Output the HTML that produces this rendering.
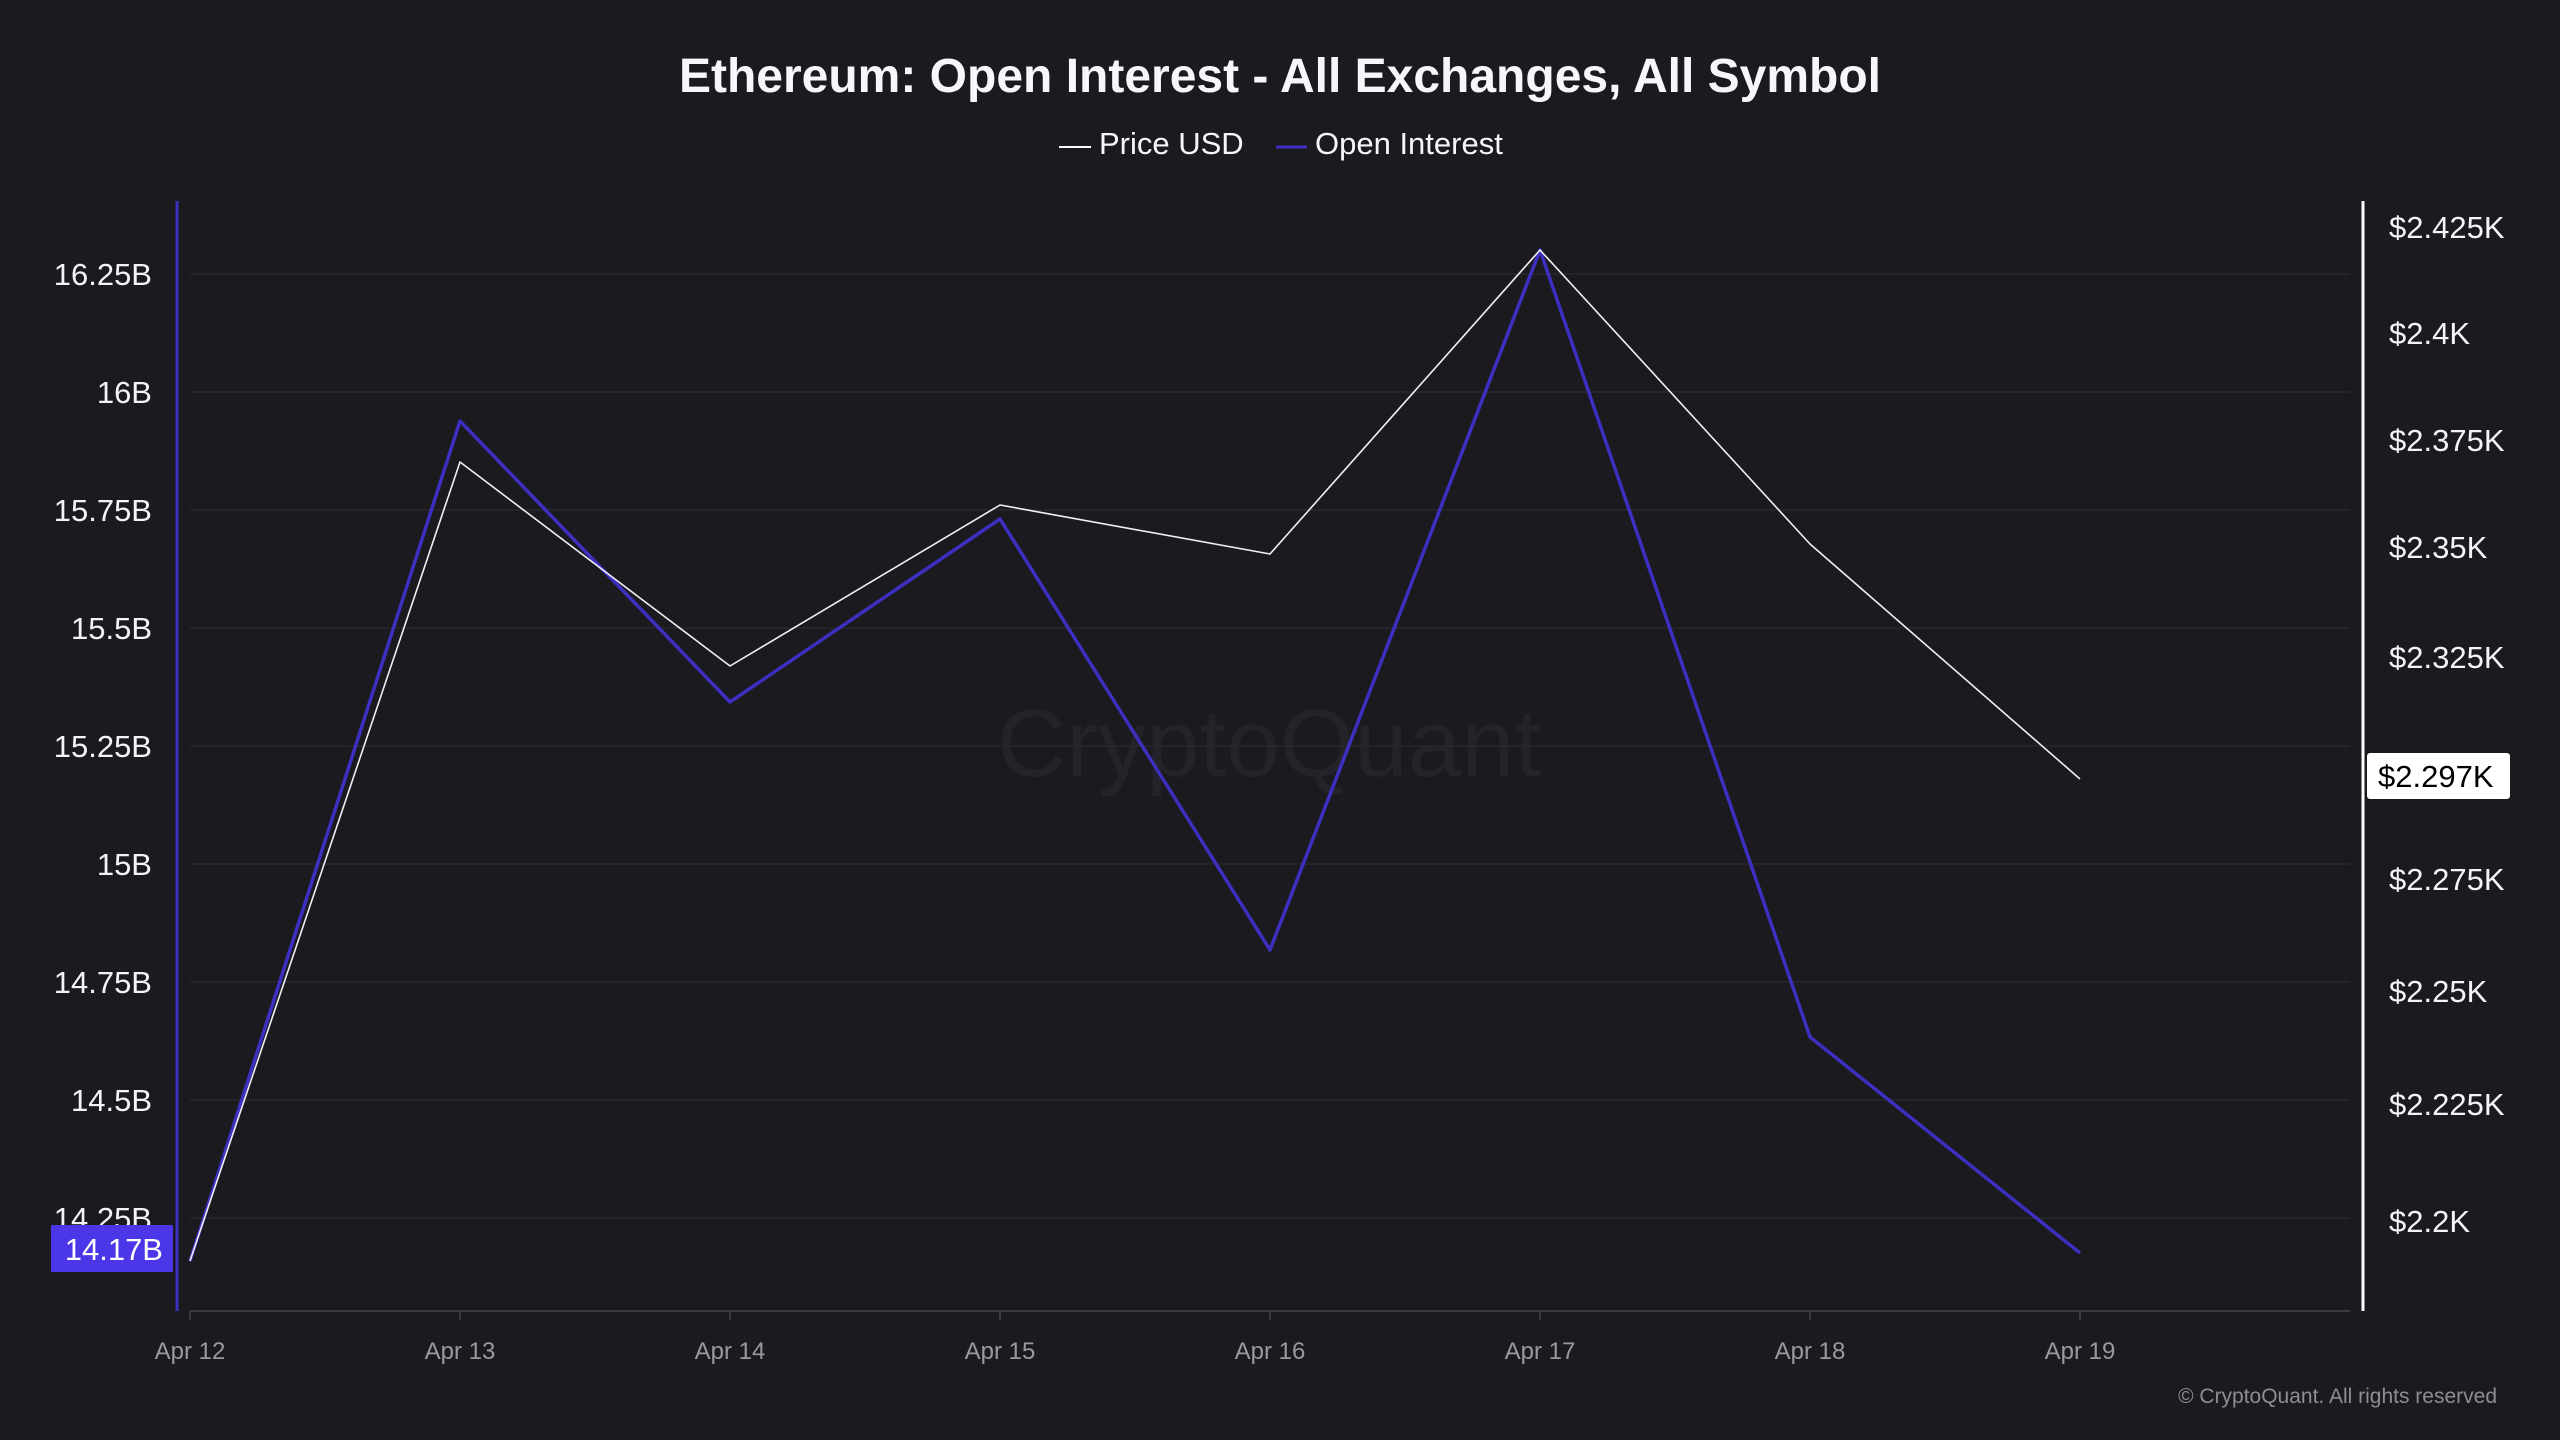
<!DOCTYPE html>
<html><head><meta charset="utf-8"><style>
html,body{margin:0;padding:0;background:#1b1a1f;}
svg{display:block;}
</style></head><body>
<svg width="2560" height="1440" viewBox="0 0 2560 1440" xmlns="http://www.w3.org/2000/svg" font-family="'Liberation Sans', sans-serif">
<rect width="2560" height="1440" fill="#1b1a1f"/>
<text x="1280" y="92" text-anchor="middle" font-size="48" font-weight="bold" fill="#f7f6fb">Ethereum: Open Interest - All Exchanges, All Symbol</text>
<line x1="1059" y1="147" x2="1091" y2="147" stroke="#ffffff" stroke-width="2"/>
<text x="1099" y="154" font-size="31" fill="#f7f6fb">Price USD</text>
<line x1="1276" y1="147" x2="1307" y2="147" stroke="#3d2fc0" stroke-width="3"/>
<text x="1315" y="154" font-size="31" fill="#f7f6fb">Open Interest</text>
<text x="1269" y="776" text-anchor="middle" font-size="96" fill="#24232a">CryptoQuant</text>
<g stroke="#28272e" stroke-width="1.5">
<line x1="190" y1="274" x2="2350" y2="274"/>
<line x1="190" y1="392" x2="2350" y2="392"/>
<line x1="190" y1="510" x2="2350" y2="510"/>
<line x1="190" y1="628" x2="2350" y2="628"/>
<line x1="190" y1="746" x2="2350" y2="746"/>
<line x1="190" y1="864" x2="2350" y2="864"/>
<line x1="190" y1="982" x2="2350" y2="982"/>
<line x1="190" y1="1100" x2="2350" y2="1100"/>
<line x1="190" y1="1218" x2="2350" y2="1218"/>
</g>
<line x1="190" y1="1311" x2="2350" y2="1311" stroke="#3a3940" stroke-width="2"/>
<g stroke="#3a3940" stroke-width="2">
<line x1="190" y1="1311" x2="190" y2="1320"/><line x1="460" y1="1311" x2="460" y2="1320"/><line x1="730" y1="1311" x2="730" y2="1320"/><line x1="1000" y1="1311" x2="1000" y2="1320"/><line x1="1270" y1="1311" x2="1270" y2="1320"/><line x1="1540" y1="1311" x2="1540" y2="1320"/><line x1="1810" y1="1311" x2="1810" y2="1320"/><line x1="2080" y1="1311" x2="2080" y2="1320"/>
</g>
<g font-size="24" fill="#9a99a2" text-anchor="middle">
<text x="190" y="1359">Apr 12</text><text x="460" y="1359">Apr 13</text><text x="730" y="1359">Apr 14</text><text x="1000" y="1359">Apr 15</text><text x="1270" y="1359">Apr 16</text><text x="1540" y="1359">Apr 17</text><text x="1810" y="1359">Apr 18</text><text x="2080" y="1359">Apr 19</text>
</g>
<line x1="177" y1="201" x2="177" y2="1311" stroke="#3d2fc0" stroke-width="3"/>
<line x1="2363" y1="201" x2="2363" y2="1311" stroke="#ffffff" stroke-width="3"/>
<g font-size="31" fill="#f4f3f8" text-anchor="end">
<text x="152" y="285">16.25B</text><text x="152" y="403">16B</text><text x="152" y="521">15.75B</text><text x="152" y="639">15.5B</text><text x="152" y="757">15.25B</text><text x="152" y="875">15B</text><text x="152" y="993">14.75B</text><text x="152" y="1111">14.5B</text><text x="152" y="1229">14.25B</text>
</g>
<rect x="51" y="1225" width="122" height="47" fill="#4b36e8"/>
<text x="163" y="1260" font-size="31" fill="#ffffff" text-anchor="end">14.17B</text>
<g font-size="31" fill="#f4f3f8">
<text x="2389" y="238">$2.425K</text><text x="2389" y="344">$2.4K</text><text x="2389" y="451">$2.375K</text><text x="2389" y="558">$2.35K</text><text x="2389" y="668">$2.325K</text><text x="2389" y="890">$2.275K</text><text x="2389" y="1002">$2.25K</text><text x="2389" y="1115">$2.225K</text><text x="2389" y="1232">$2.2K</text>
</g>
<rect x="2367" y="753" width="143" height="46" rx="3" fill="#ffffff"/>
<text x="2378" y="787" font-size="31" fill="#000000">$2.297K</text>
<polyline fill="none" stroke="#3d2fc0" stroke-width="3.5" stroke-linejoin="round" points="190,1261 460,421 730,702 1000,519 1270,950 1540,250 1810,1037 2080,1253"/>
<polyline fill="none" stroke="#f0f0f4" stroke-width="1.6" stroke-linejoin="round" points="190,1261 460,462 730,666 1000,505 1270,554 1540,250 1810,544 2080,779"/>
<text x="2497" y="1403" font-size="21" fill="#8e8d96" text-anchor="end">© CryptoQuant. All rights reserved</text>
</svg>
</body></html>
